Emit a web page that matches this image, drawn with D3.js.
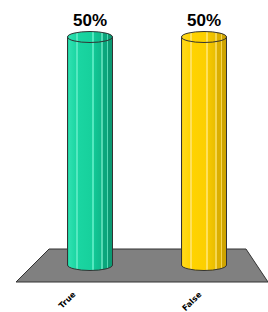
<!DOCTYPE html>
<html><head><meta charset="utf-8">
<script src="https://cdn.jsdelivr.net/npm/d3@7"></script>
<style>html,body{margin:0;padding:0;background:#fff;}svg{display:block;}</style>
</head><body>
<svg id="c" width="268" height="312"></svg>
<script>
const categories = ["True", "False"];
const values = [50, 50];
const valueLabels = ["50%", "50%"];
const colorSets = [
  ["#12c996", "#2ee0b0", "#1ad6a2", "#17d09c", "#54e8c0", "#12c896", "#0fb98a", "#55d9b4", "#0aa67c", "#0b9a73"],
  ["#f0c400", "#ffd91a", "#ffd300", "#fccf00", "#ffe15a", "#f7c900", "#eabe00", "#f5d650", "#dcaf00", "#cfa400"]
];

const svg = d3.select("#c");
const defs = svg.append("defs");

const floorBackY = 249, floorFrontY = 282;
const floorBack = [49, 246], floorFront = [16, 268];
const baseY = 265;

const x = d3.scalePoint().domain(categories).range([33, 261]).padding(0.5);
const xFront = d3.scalePoint().domain(categories).range([16, 268]).padding(0.5);
const y = d3.scaleLinear().domain([0, 50]).range([baseY, 37]);
const rx = 22.5, ry = 5.5;

svg.append("path")
  .attr("d", d3.line()([[floorBack[0], floorBackY], [floorBack[1], floorBackY], [floorFront[1], floorFrontY], [floorFront[0], floorFrontY]]) + "Z")
  .attr("fill", "#808080").attr("stroke", "#333").attr("stroke-width", 1);

categories.forEach((c, i) => {
  const cs = colorSets[i];
  const g = defs.append("linearGradient").attr("id", "g" + i).attr("x1", 0).attr("x2", 1).attr("y1", 0).attr("y2", 0);
  const stops = [
    [0, cs[0]], [0.04, cs[1]], [0.2, cs[2]], [0.2, cs[4]], [0.23, cs[4]], [0.23, cs[2]],
    [0.55, cs[3]], [0.55, cs[4]], [0.58, cs[4]], [0.58, cs[5]], [0.75, cs[6]], [0.75, cs[7]], [0.78, cs[7]], [0.78, cs[8]],
    [0.88, cs[8]], [0.88, cs[7]], [0.9, cs[7]], [0.9, cs[9]], [1, cs[9]]
  ];
  stops.forEach(s => g.append("stop").attr("offset", s[0]).attr("stop-color", s[1]));
});

const bars = svg.selectAll("g.bar").data(categories).join("g").attr("class", "bar");
bars.each(function(c, i) {
  const g = d3.select(this);
  const cx = x(c), top = y(values[i]), bot = y(0);
  const d = `M${cx - rx},${top} L${cx - rx},${bot} A${rx},${ry} 0 0 0 ${cx + rx},${bot} L${cx + rx},${top} Z`;
  g.append("path").attr("d", d).attr("fill", `url(#g${i})`).attr("stroke", "#333").attr("stroke-width", 1);
  g.append("ellipse").attr("cx", cx).attr("cy", top).attr("rx", rx).attr("ry", ry)
    .attr("fill", `url(#g${i})`).attr("stroke", "#333").attr("stroke-width", 1);
  g.append("text").attr("x", cx).attr("y", top - 11).attr("text-anchor", "middle")
    .attr("font-family", "Liberation Sans, Arial, sans-serif").attr("font-weight", "bold")
    .attr("font-size", 17).attr("fill", "#000").text(valueLabels[i]);
});

svg.selectAll("text.cat").data(categories).join("text").attr("class", "cat")
  .attr("transform", d => `translate(${xFront(d) - 3},${floorFrontY + 13}) rotate(-45)`)
  .attr("text-anchor", "end")
  .attr("font-family", "DejaVu Sans, sans-serif").attr("font-weight", "bold")
  .attr("font-size", 8).attr("fill", "#000").text(d => d);
</script>
</body></html>
